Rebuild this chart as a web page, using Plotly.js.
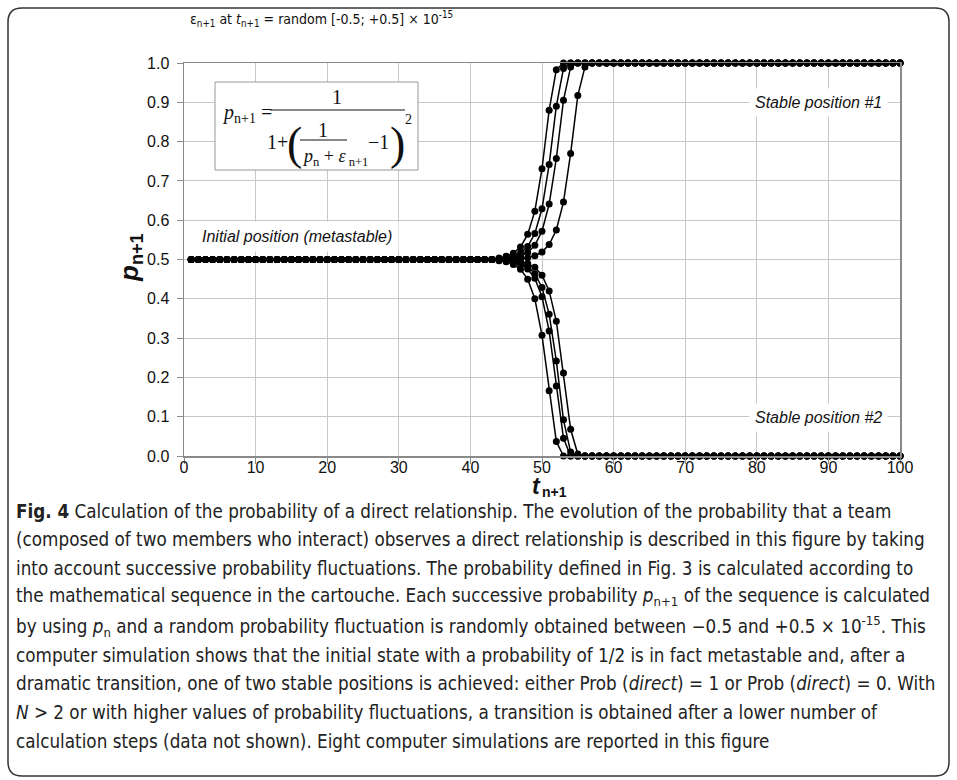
<!DOCTYPE html>
<html>
<head>
<meta charset="utf-8">
<script src="https://cdn.plot.ly/plotly-3.0.1.min.js"></script>
<style>
html,body{margin:0;padding:0;background:#fff;}
#chart{width:957px;height:780px;}
</style>
</head>
<body>
<div id="chart"></div>
<script>
// ---------- data ----------
const tSteps = [
 1,2,3,4,5,6,7,8,9,10, 11,12,13,14,15,16,17,18,19,20,
 21,22,23,24,25,26,27,28,29,30, 31,32,33,34,35,36,37,38,39,40,
 41,42,43,44,45,46,47,48,49,50, 51,52,53,54,55,56,57,58,59,60,
 61,62,63,64,65,66,67,68,69,70, 71,72,73,74,75,76,77,78,79,80,
 81,82,83,84,85,86,87,88,89,90, 91,92,93,94,95,96,97,98,99,100
];
// t = 1..40 : metastable plateau
const plateau = [
 0.5,0.5,0.5,0.5,0.5,0.5,0.5,0.5,0.5,0.5,
 0.5,0.5,0.5,0.5,0.5,0.5,0.5,0.5,0.5,0.5,
 0.5,0.5,0.5,0.5,0.5,0.5,0.5,0.5,0.5,0.5,
 0.5,0.5,0.5,0.5,0.5,0.5,0.5,0.5,0.5,0.5
];
// t = 61..100 : stable positions
const stableOne = [
 1,1,1,1,1,1,1,1,1,1, 1,1,1,1,1,1,1,1,1,1,
 1,1,1,1,1,1,1,1,1,1, 1,1,1,1,1,1,1,1,1,1
];
const stableZero = [
 0,0,0,0,0,0,0,0,0,0, 0,0,0,0,0,0,0,0,0,0,
 0,0,0,0,0,0,0,0,0,0, 0,0,0,0,0,0,0,0,0,0
];
// t = 41..60 : transitions of the eight simulations
const up1 = [0.5,0.5,0.5,0.504,0.508,0.516,0.532,0.564,0.623,0.731, 0.88,0.983,1,1,1,1,1,1,1,1];
const up2 = [0.5,0.5,0.5,0.5,0.504,0.508,0.5165,0.533,0.566,0.629, 0.742,0.89,0.986,1,1,1,1,1,1,1];
const up3 = [0.5,0.5,0.5,0.5,0.5,0.5045,0.509,0.518,0.536,0.572, 0.641,0.757,0.905,0.99,1,1,1,1,1,1];
const up4 = [0.5,0.5,0.5,0.5,0.5,0.5,0.5024,0.5047,0.5095,0.519, 0.538,0.575,0.646,0.77,0.917,0.99,1,1,1,1];
const down1 = [0.5,0.5,0.5,0.497,0.494,0.4875,0.475,0.45,0.40,0.307, 0.166,0.037,0,0,0,0,0,0,0,0];
const down2 = [0.5,0.5,0.5,0.5,0.497,0.494,0.488,0.476,0.452,0.405, 0.318,0.178,0.045,0,0,0,0,0,0,0];
const down3 = [0.5,0.5,0.5,0.5,0.498,0.4955,0.491,0.482,0.464,0.429, 0.361,0.242,0.092,0.01,0,0,0,0,0,0];
const down4 = [0.5,0.5,0.5,0.5,0.5,0.4975,0.495,0.49,0.48,0.46, 0.42,0.343,0.211,0.068,0.005,0,0,0,0,0];

const xTickVals = [0,10,20,30,40,50,60,70,80,90,100];
const xTickText = ['0','10','20','30','40','50','60','70','80','90','100'];
const yTickVals = [0,0.1,0.2,0.3,0.4,0.5,0.6,0.7,0.8,0.9,1.0];
const yTickText = ['0.0','0.1','0.2','0.3','0.4','0.5','0.6','0.7','0.8','0.9','1.0'];

const titleText = 'ε<sub>n+1</sub> at <i>t</i><sub>n+1</sub> = random [-0.5; +0.5] × 10<sup>-15</sup>';
const captionLines = [
 '<b>Fig. 4</b> Calculation of the probability of a direct relationship. The evolution of the probability that a team',
 '(composed of two members who interact) observes a direct relationship is described in this figure by taking',
 'into account successive probability fluctuations. The probability defined in Fig. 3 is calculated according to',
 'the mathematical sequence in the cartouche. Each successive probability <i>p</i><sub>n+1</sub> of the sequence is calculated',
 'by using <i>p</i><sub>n</sub> and a random probability fluctuation is randomly obtained between −0.5 and +0.5 × 10<sup>-15</sup>. This',
 'computer simulation shows that the initial state with a probability of 1/2 is in fact metastable and, after a',
 'dramatic transition, one of two stable positions is achieved: either Prob (<i>direct</i>) = 1 or Prob (<i>direct</i>) = 0. With',
 '<i>N</i> > 2 or with higher values of probability fluctuations, a transition is obtained after a lower number of',
 'calculation steps (data not shown). Eight computer simulations are reported in this figure'
];

// ---------- layout helpers (pixel -> paper) ----------
const W = 957, H = 780;
const L = 184, R = 900, T = 63, B = 456;
const px = X => (X - L) / (R - L);
const py = Y => (B - Y) / (B - T);

const series = [up1, up2, up3, up4, down1, down2, down3, down4];
const ends = [stableOne, stableOne, stableOne, stableOne, stableZero, stableZero, stableZero, stableZero];
const traces = series.map((mid, i) => ({
  x: tSteps,
  y: plateau.concat(mid, ends[i]),
  type: 'scatter',
  mode: 'lines+markers',
  line: {color: '#000', width: 1.5},
  marker: {color: '#000', size: 7},
  cliponaxis: false,
  showlegend: false,
  hoverinfo: 'skip'
}));

const SANS = 'Liberation Sans, Arial, sans-serif';
const COND = 'DejaVu Sans Condensed, DejaVu Sans, sans-serif';
const SERIF = 'Liberation Serif, Times New Roman, serif';

function ann(text, X, Y, opts) {
  return Object.assign({
    text: text, xref: 'paper', yref: 'paper', x: px(X), y: py(Y),
    xanchor: 'center', yanchor: 'middle', showarrow: false,
    font: {family: SANS, size: 15, color: '#111'}
  }, opts || {});
}

const annotations = [];
annotations.push(ann(titleText, 188, 19, {xanchor: 'left', font: {family: COND, size: 14, color: '#111'}}));
annotations.push(ann('<i>Initial position (metastable)</i>', 297, 236, {bgcolor: '#fff', borderpad: 6, font: {family: SANS, size: 16, color: '#111'}}));
annotations.push(ann('<i>Stable position #1</i>', 818, 102, {bgcolor: '#fff', borderpad: 5, font: {family: SANS, size: 16, color: '#111'}}));
annotations.push(ann('<i>Stable position #2</i>', 818, 417, {bgcolor: '#fff', borderpad: 5, font: {family: SANS, size: 16, color: '#111'}}));
// axis titles
annotations.push(ann('<b><i>p</i></b><b><sub>n+1</sub></b>', 130, 258, {textangle: -90, font: {family: SANS, size: 26, color: '#111'}}));
annotations.push(ann('<b><i>t</i></b>', 542, 486, {xanchor: 'right', borderpad: 0, font: {family: SANS, size: 23, color: '#111'}}));
annotations.push(ann('<b>n+1</b>', 541, 492, {xanchor: 'left', borderpad: 0, font: {family: SANS, size: 14, color: '#111'}}));
// formula (cartouche)
const FS = {family: SERIF, size: 20, color: '#111'};
annotations.push(ann('<i>p</i><sub>n+1</sub> =', 220, 113, {xanchor: 'left', font: FS}));
annotations.push(ann('1', 337, 97, {font: FS}));
annotations.push(ann('1+', 265, 142, {xanchor: 'left', font: FS}));
annotations.push(ann('(', 294, 143, {font: {family: SERIF, size: 46, color: '#111'}}));
annotations.push(ann('1', 323, 130, {font: FS}));
annotations.push(ann('<i>p</i><sub>n</sub> + <i>ε</i><sub> n+1</sub>', 300, 157, {xanchor: 'left', font: {family: SERIF, size: 18, color: '#111'}}));
annotations.push(ann('−1', 366, 142, {xanchor: 'left', font: FS}));
annotations.push(ann(')', 397, 143, {font: {family: SERIF, size: 46, color: '#111'}}));
annotations.push(ann('2', 408, 119, {font: {family: SERIF, size: 14, color: '#111'}}));
// caption
captionLines.forEach((line, i) => {
  annotations.push(ann(line, 14, 511 + i * 28.8, {xanchor: 'left', font: {family: COND, size: 18.7, color: '#222'}}));
});

// outer rounded frame
const fx0 = 8, fx1 = 949, fy0 = 8, fy1 = 776, rr = 14;
const P = (X, Y) => px(X) + ',' + py(Y);
const framePath = 'M' + P(fx0 + rr, fy0) + ' L' + P(fx1 - rr, fy0) + ' Q' + P(fx1, fy0) + ' ' + P(fx1, fy0 + rr) +
  ' L' + P(fx1, fy1 - rr) + ' Q' + P(fx1, fy1) + ' ' + P(fx1 - rr, fy1) +
  ' L' + P(fx0 + rr, fy1) + ' Q' + P(fx0, fy1) + ' ' + P(fx0, fy1 - rr) +
  ' L' + P(fx0, fy0 + rr) + ' Q' + P(fx0, fy0) + ' ' + P(fx0 + rr, fy0) + ' Z';

const shapes = [
  {type: 'path', xref: 'paper', yref: 'paper', path: framePath, line: {color: '#333', width: 1.5}, layer: 'above'},
  {type: 'rect', xref: 'paper', yref: 'paper', x0: px(215), x1: px(418), y0: py(170), y1: py(82),
   line: {color: '#999', width: 1}, fillcolor: '#fff', layer: 'above'},
  {type: 'line', xref: 'paper', yref: 'paper', x0: px(270), x1: px(405), y0: py(110), y1: py(110), line: {color: '#111', width: 1}, layer: 'above'},
  {type: 'line', xref: 'paper', yref: 'paper', x0: px(300), x1: px(347), y0: py(140), y1: py(140), line: {color: '#111', width: 1}, layer: 'above'}
];

const axisCommon = {
  showline: true, mirror: true, linecolor: '#8a8a8a', linewidth: 1.5,
  showgrid: true, gridcolor: '#c8c8c8', gridwidth: 1,
  ticks: 'outside', ticklen: 6, tickcolor: '#8a8a8a', tickwidth: 1,
  zeroline: false, tickfont: {family: SANS, size: 16, color: '#111'}
};

const layout = {
  width: W, height: H,
  margin: {l: L, r: W - R, t: T, b: H - B, pad: 0},
  paper_bgcolor: '#fff', plot_bgcolor: '#fff',
  showlegend: false,
  xaxis: Object.assign({}, axisCommon, {range: [0, 100], tickmode: 'array', tickvals: xTickVals, ticktext: xTickText, ticklabelstandoff: -10}),
  yaxis: Object.assign({}, axisCommon, {range: [0, 1], tickmode: 'array', tickvals: yTickVals, ticktext: yTickText, ticklabelstandoff: 4}),
  annotations: annotations,
  shapes: shapes
};

Plotly.newPlot('chart', traces, layout, {staticPlot: true, displayModeBar: false});
</script>
</body>
</html>
